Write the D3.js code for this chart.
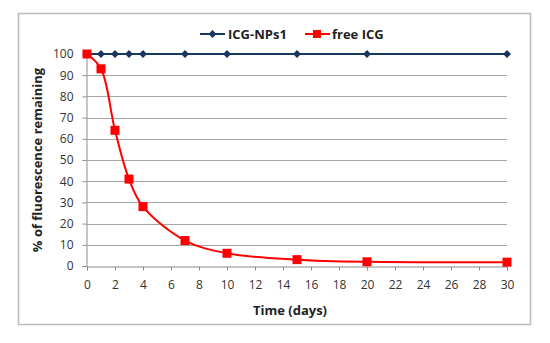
<!DOCTYPE html>
<meta charset="utf-8">
<style>
    body {margin: 0; font-family: 'Open Sans', sans-serif;}
    text {fill: #222;}
</style>

<svg width="550" height="343"></svg>

<script src="https://cdnjs.cloudflare.com/ajax/libs/d3/7.8.5/d3.min.js"></script>
<script>

var days = [0, 1, 2, 3, 4, 7, 10, 15, 20, 30];
var npsValues = [100, 100, 100, 100, 100, 100, 100, 100, 100, 100];
var freeValues = [100, 93, 64, 41, 28, 12, 6, 3, 2, 1.8];
var xTicks = d3.range(0, 31, 2);
var yTicks = d3.range(0, 101, 10);

var svg = d3.select("svg");

// outer frame
svg.append("rect")
    .attr("x", 18.5).attr("y", 13.5)
    .attr("width", 512).attr("height", 311)
    .style("fill", "#fff")
    .style("stroke", "#bbb")
    .style("stroke-width", 1.5);

var x = d3.scaleLinear().domain([0, 30]).range([87, 507]);
var y = d3.scaleLinear().domain([0, 100]).range([266, 54]);

// gridlines
svg.append("g")
    .selectAll("line")
    .data(yTicks.slice(1))
    .enter().append("line")
    .attr("x1", x(0)).attr("x2", x(30))
    .attr("y1", function(d) { return Math.round(y(d)) + 0.5; })
    .attr("y2", function(d) { return Math.round(y(d)) + 0.5; })
    .style("stroke", "#a6a6a6")
    .style("stroke-width", 1);

// axes
var xAxis = svg.append("g")
    .attr("transform", "translate(0," + (Math.round(y(0)) + 0.5) + ")")
    .call(d3.axisBottom(x).tickValues(xTicks).tickSize(4).tickPadding(10));

var yAxis = svg.append("g")
    .attr("transform", "translate(" + (x(0) - 0.5) + ",0)")
    .call(d3.axisLeft(y).tickValues(yTicks).tickSize(4).tickPadding(9));

[xAxis, yAxis].forEach(function(a) {
  a.select(".domain").style("stroke", "#8c8c8c");
  a.selectAll(".tick line").style("stroke", "#8c8c8c");
  a.selectAll("text")
    .style("font-family", "'Open Sans', sans-serif")
    .style("font-size", "12px")
    .style("fill", "#333");
});

// series
var line = d3.line()
    .x(function(d) { return x(d[0]); })
    .y(function(d) { return y(d[1]); });

var npsData = d3.zip(days, npsValues);
var freeData = d3.zip(days, freeValues);

svg.append("path")
    .datum(npsData)
    .attr("d", line)
    .style("fill", "none")
    .style("stroke", "#17375e")
    .style("stroke-width", 2);

svg.append("path")
    .datum(freeData)
    .attr("d", line.curve(d3.curveCatmullRom.alpha(0.5)))
    .style("fill", "none")
    .style("stroke", "#ff0000")
    .style("stroke-width", 2);

var diamond = d3.symbol().type(d3.symbolDiamond2).size(40);

svg.append("g")
    .selectAll("path")
    .data(npsData)
    .enter().append("path")
    .attr("d", diamond)
    .attr("transform", function(d) { return "translate(" + x(d[0]) + "," + y(d[1]) + ")"; })
    .style("fill", "#17375e");

svg.append("g")
    .selectAll("rect")
    .data(freeData)
    .enter().append("rect")
    .attr("x", function(d) { return x(d[0]) - 4.5; })
    .attr("y", function(d) { return y(d[1]) - 4.5; })
    .attr("width", 9).attr("height", 9)
    .style("fill", "#ff0000");

// legend
var legend = svg.append("g");
legend.append("line")
    .attr("x1", 200).attr("x2", 225).attr("y1", 34).attr("y2", 34)
    .style("stroke", "#17375e").style("stroke-width", 2);
legend.append("path")
    .attr("d", diamond)
    .attr("transform", "translate(212.5,34)")
    .style("fill", "#17375e");
legend.append("text")
    .attr("x", 228).attr("y", 38.5)
    .style("font-size", "13px").style("font-weight", "bold")
    .text("ICG-NPs1");

legend.append("line")
    .attr("x1", 305).attr("x2", 330).attr("y1", 34).attr("y2", 34)
    .style("stroke", "#ff0000").style("stroke-width", 2);
legend.append("rect")
    .attr("x", 313).attr("y", 30).attr("width", 8).attr("height", 8)
    .style("fill", "#ff0000");
legend.append("text")
    .attr("x", 332).attr("y", 38.5)
    .style("font-size", "13px").style("font-weight", "bold")
    .text("free ICG");

// axis titles
svg.append("text")
    .attr("x", 290).attr("y", 315)
    .attr("text-anchor", "middle")
    .style("font-size", "13px").style("font-weight", "bold")
    .text("Time (days)");

svg.append("text")
    .attr("transform", "translate(42,160) rotate(-90)")
    .attr("text-anchor", "middle")
    .style("font-size", "13px").style("font-weight", "bold")
    .text("% of fluorescence remaining");

</script>
